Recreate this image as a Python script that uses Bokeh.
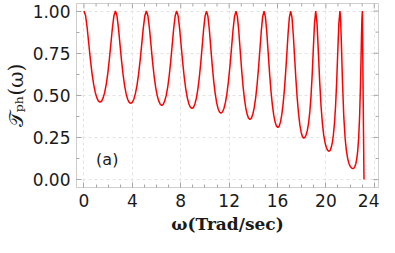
from math import pi
from bokeh.plotting import figure
from bokeh.models import Range1d, SingleIntervalTicker, Label, NumeralTickFormatter
from bokeh.embed import file_html
from bokeh.resources import INLINE

# ---- data ----
omega = [
    0.0, 0.133, 0.266, 0.399, 0.532, 0.665, 0.798, 0.931, 1.064, 1.197, 1.33,
    1.457, 1.584, 1.711, 1.838, 1.965, 2.092, 2.219, 2.346, 2.473, 2.6,
    2.726, 2.852, 2.978, 3.104, 3.23, 3.356, 3.482, 3.608, 3.734, 3.86,
    3.99, 4.12, 4.25, 4.38, 4.51, 4.64, 4.77, 4.90, 5.03, 5.16,
    5.287, 5.414, 5.541, 5.668, 5.795, 5.922, 6.049, 6.176, 6.303, 6.43,
    6.553, 6.676, 6.799, 6.922, 7.045, 7.168, 7.291, 7.414, 7.537, 7.66,
    7.787, 7.914, 8.041, 8.168, 8.295, 8.422, 8.549, 8.676, 8.803, 8.93,
    9.05, 9.17, 9.29, 9.41, 9.53, 9.65, 9.77, 9.89, 10.01, 10.13,
    10.249, 10.368, 10.487, 10.606, 10.725, 10.844, 10.963, 11.082, 11.201, 11.32,
    11.445, 11.57, 11.695, 11.82, 11.945, 12.07, 12.195, 12.32, 12.445, 12.57,
    12.685, 12.8, 12.915, 13.03, 13.145, 13.26, 13.375, 13.49, 13.605, 13.72,
    13.837, 13.954, 14.071, 14.188, 14.305, 14.422, 14.539, 14.656, 14.773, 14.89,
    15.004, 15.118, 15.232, 15.346, 15.46, 15.574, 15.688, 15.802, 15.916, 16.03,
    16.136, 16.242, 16.348, 16.454, 16.56, 16.666, 16.772, 16.878, 16.984, 17.09,
    17.198, 17.306, 17.414, 17.522, 17.63, 17.738, 17.846, 17.954, 18.062, 18.17,
    18.269, 18.368, 18.467, 18.566, 18.665, 18.764, 18.863, 18.962, 19.061, 19.16,
    19.27, 19.38, 19.49, 19.6, 19.71, 19.82, 19.93, 20.04, 20.15, 20.26,
    20.35, 20.44, 20.53, 20.62, 20.71, 20.80, 20.89, 20.98, 21.07, 21.16,
    21.214, 21.268, 21.376, 21.484, 21.592, 21.70, 21.808, 21.916, 22.024, 22.132, 22.24,
    22.318, 22.396, 22.474, 22.552, 22.63, 22.708, 22.786, 22.864, 22.942, 22.981, 23.02,
    23.08, 23.15,
]
transmission = [
    1.0, 0.972, 0.898, 0.803, 0.710, 0.629, 0.565, 0.517, 0.485, 0.466, 0.46,
    0.466, 0.485, 0.517, 0.565, 0.629, 0.710, 0.803, 0.898, 0.972, 1.0,
    0.972, 0.897, 0.801, 0.706, 0.624, 0.558, 0.510, 0.477, 0.458, 0.452,
    0.458, 0.477, 0.510, 0.558, 0.624, 0.706, 0.801, 0.897, 0.972, 1.0,
    0.971, 0.895, 0.797, 0.700, 0.616, 0.549, 0.500, 0.467, 0.447, 0.441,
    0.447, 0.467, 0.500, 0.549, 0.616, 0.700, 0.797, 0.895, 0.971, 1.0,
    0.970, 0.891, 0.790, 0.690, 0.603, 0.534, 0.483, 0.449, 0.428, 0.422,
    0.428, 0.449, 0.483, 0.534, 0.603, 0.690, 0.790, 0.891, 0.970, 1.0,
    0.968, 0.886, 0.779, 0.675, 0.584, 0.512, 0.458, 0.422, 0.401, 0.394,
    0.401, 0.422, 0.458, 0.512, 0.584, 0.675, 0.779, 0.886, 0.968, 1.0,
    0.967, 0.879, 0.766, 0.655, 0.558, 0.482, 0.425, 0.387, 0.364, 0.357,
    0.364, 0.387, 0.425, 0.482, 0.558, 0.655, 0.766, 0.879, 0.967, 1.0,
    0.964, 0.870, 0.748, 0.629, 0.525, 0.443, 0.382, 0.341, 0.317, 0.309,
    0.317, 0.341, 0.382, 0.443, 0.525, 0.629, 0.748, 0.870, 0.964, 1.0,
    0.961, 0.858, 0.726, 0.595, 0.482, 0.392, 0.326, 0.281, 0.254, 0.246,
    0.251, 0.266, 0.292, 0.334, 0.397, 0.488, 0.616, 0.776, 0.931, 1.0,
    0.924, 0.753, 0.577, 0.435, 0.334, 0.265, 0.219, 0.190, 0.173, 0.168,
    0.173, 0.190, 0.219, 0.265, 0.334, 0.435, 0.577, 0.753, 0.924, 1.0,
    0.956, 0.844, 0.572, 0.369, 0.244, 0.169, 0.123, 0.094, 0.077, 0.068, 0.065,
    0.068, 0.077, 0.094, 0.123, 0.169, 0.244, 0.369, 0.572, 0.844, 0.956, 1.0,
    0.5, 0.0,
]
x_major_ticks = [0, 4, 8, 12, 16, 20, 24]
x_minor_ticks = [1, 2, 3, 5, 6, 7, 9, 10, 11, 13, 14, 15, 17, 18, 19, 21, 22, 23]
y_major_ticks = [0.0, 0.25, 0.5, 0.75, 1.0]
y_minor_ticks = [0.125, 0.375, 0.625, 0.875]
x_label = "ω(Trad/sec)"
y_label = "𝒯ₚₕ(ω)"
panel_tag = "(a)"

X0, X1 = -0.62, 24.35
Y0, Y1 = -0.047, 1.045
FRAME = "#cfcfcf"
GRID = "#e2e2e2"
TICKS = "#a8a8a8"

p = figure(width=379, height=237, output_backend="svg", toolbar_location=None,
           x_range=Range1d(X0, X1), y_range=Range1d(Y0, Y1),
           min_border_left=68, min_border_right=1, min_border_top=3,
           min_border_bottom=50, x_axis_label=x_label, y_axis_label=y_label)
p.background_fill_color = "white"
p.border_fill_color = "white"
p.outline_line_color = FRAME
p.outline_line_width = 1

p.line(omega, transmission, line_color="#ff0000", line_width=1.5)

for ax, step, nminor in ((p.xaxis[0], 4, 4), (p.yaxis[0], 0.25, 2)):
    ax.ticker = SingleIntervalTicker(interval=step, num_minor_ticks=nminor)
    ax.axis_line_color = FRAME
    ax.major_tick_line_color = TICKS
    ax.minor_tick_line_color = TICKS
    ax.major_tick_in = 5
    ax.major_tick_out = 0
    ax.minor_tick_in = 3
    ax.minor_tick_out = 0
    ax.major_label_text_font = "DejaVu Sans"
    ax.major_label_text_font_size = "17px"
    ax.major_label_text_color = "#1a1a1a"
    ax.axis_label_text_color = "#1a1a1a"

p.yaxis[0].formatter = NumeralTickFormatter(format="0.00")
p.xaxis[0].major_label_standoff = 6
p.yaxis[0].major_label_standoff = 6
p.xaxis[0].axis_label_text_font = "DejaVu Serif"
p.xaxis[0].axis_label_text_font_style = "bold"
p.xaxis[0].axis_label_text_font_size = "17px"
p.xaxis[0].axis_label_standoff = 4
p.yaxis[0].axis_label_text_font = "DejaVu Serif"
p.yaxis[0].axis_label_text_font_style = "normal"
p.yaxis[0].axis_label_text_font_size = "20px"
p.yaxis[0].axis_label_standoff = 2

# tick marks on the top and right frame edges (half of each dash is clipped)
p.scatter(x_major_ticks, [Y1] * len(x_major_ticks), marker="dash", size=10,
          angle=pi / 2, line_color=TICKS, line_width=1)
p.scatter(x_minor_ticks, [Y1] * len(x_minor_ticks), marker="dash", size=6,
          angle=pi / 2, line_color=TICKS, line_width=1)
p.scatter([X1] * len(y_major_ticks), y_major_ticks, marker="dash", size=10,
          line_color=TICKS, line_width=1)
p.scatter([X1] * len(y_minor_ticks), y_minor_ticks, marker="dash", size=6,
          line_color=TICKS, line_width=1)

p.xgrid.ticker = SingleIntervalTicker(interval=4)
p.ygrid.ticker = SingleIntervalTicker(interval=0.25)
p.grid.grid_line_color = GRID
p.grid.grid_line_dash = "3 3"
p.grid.grid_line_width = 1

p.add_layout(Label(x=1.0, y=0.12, text=panel_tag, text_font="DejaVu Sans",
                   text_font_size="16px", text_baseline="middle",
                   text_color="#1a1a1a"))

open("out.html", "w").write(file_html(p, INLINE))
